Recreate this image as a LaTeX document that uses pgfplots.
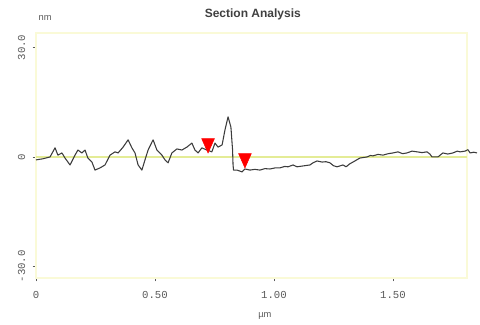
\documentclass[border=0pt]{standalone}
\usepackage{fontspec}
\setmainfont{Liberation Sans}
\newfontfamily\monofont{Liberation Mono}
\usepackage{pgfplots}
\pgfplotsset{compat=1.18}
\definecolor{frameyel}{RGB}{250,250,215}
\definecolor{zeroyel}{RGB}{228,236,150}
\definecolor{curve}{RGB}{60,60,60}
\definecolor{ticklab}{RGB}{90,90,90}
\begin{document}
\begin{tikzpicture}
\useasboundingbox (0,0) rectangle (360pt,243.75pt);
\begin{axis}[
  at={(27pt,35.25pt)}, anchor=south west,
  scale only axis, width=323.25pt, height=183.75pt,
  xmin=0, xmax=1.811, ymin=-33.2, ymax=34.0,
  clip=false,
  axis line style={draw=frameyel, line width=1pt},
  xtick={0,0.5,1,1.5}, xticklabels={0,0.50,1.00,1.50},
  ytick={-30,0,30}, yticklabels={-30.0,0,30.0},
  tick align=outside, major tick length=2.5pt,
  tick style={draw=ticklab, line width=0.4pt},
  xtick pos=bottom, ytick pos=left,
  xticklabel style={font=\monofont\fontsize{8}{9}\selectfont, text=ticklab, anchor=north, yshift=-4pt},
  yticklabel style={font=\monofont\fontsize{8}{9}\selectfont, text=ticklab, rotate=90, anchor=south, yshift=2pt},
  title={Section Analysis},
  title style={font=\bfseries\fontsize{9}{11}\selectfont, text=black!75, at={(axis description cs:0.503,1.045)}, anchor=center},
  xlabel={µm},
  xlabel style={font=\fontsize{7}{8}\selectfont, text=ticklab, at={(axis description cs:0.531,-0.155)}, anchor=center},
  ylabel={nm},
  ylabel style={font=\fontsize{7}{8}\selectfont, text=ticklab, at={(axis description cs:0.021,1.061)}, anchor=center, rotate=-90},
]
\addplot[zeroyel, line width=1.2pt, forget plot] coordinates {(0,0) (1.811,0)};
\addplot[curve, line width=0.8pt, line join=round] coordinates {
(0.000,-0.8) (0.029,-0.5) (0.059,0.0) (0.080,2.5) (0.092,0.5) (0.109,1.1) (0.122,-0.3)
(0.143,-2.2) (0.164,0.5) (0.176,1.9) (0.193,1.1) (0.206,1.9) (0.218,-0.3) (0.235,-1.4)
(0.248,-3.6) (0.269,-3.0) (0.290,-2.2) (0.311,0.5) (0.332,1.4) (0.345,1.1) (0.366,2.7)
(0.387,4.7) (0.403,2.5) (0.416,1.1) (0.429,-2.2) (0.445,-3.6) (0.458,-0.8) (0.471,1.9)
(0.492,4.7) (0.508,1.9) (0.529,0.5) (0.542,-0.8) (0.555,-1.6) (0.571,1.1) (0.592,2.2)
(0.613,1.9) (0.634,2.7) (0.655,3.8) (0.668,1.9) (0.681,1.1) (0.697,2.5) (0.718,1.9)
(0.739,1.4) (0.752,3.8) (0.765,2.7) (0.782,3.3) (0.794,7.4) (0.807,11.0) (0.819,8.2)
(0.826,1.9) (0.828,-2.2) (0.830,-3.6) (0.845,-3.6) (0.866,-4.1) (0.878,-3.3) (0.899,-3.6)
(0.920,-3.4) (0.941,-3.6) (0.962,-3.2) (0.983,-3.3) (1.005,-3.0) (1.025,-3.0) (1.045,-2.6)
(1.059,-2.7) (1.080,-2.2) (1.097,-2.7) (1.118,-2.5) (1.151,-2.2) (1.164,-1.6) (1.181,-1.1)
(1.202,-1.4) (1.218,-1.3) (1.235,-1.6) (1.250,-2.4) (1.265,-2.7) (1.290,-2.2) (1.303,-2.7)
(1.318,-1.9) (1.332,-1.4) (1.345,-0.9) (1.361,-0.3) (1.391,0.0) (1.405,0.4) (1.416,0.3)
(1.437,0.7) (1.458,0.5) (1.480,0.9) (1.500,1.1) (1.521,1.4) (1.540,0.9) (1.559,1.1)
(1.580,1.6) (1.601,1.4) (1.622,1.2) (1.643,1.4) (1.655,0.8) (1.664,0.0) (1.689,0.0)
(1.700,0.6) (1.710,1.1) (1.730,0.8) (1.752,1.1) (1.770,1.6) (1.782,1.4) (1.803,1.6)
(1.815,2.0) (1.824,1.1) (1.840,1.3) (1.853,1.1)
};
\addplot[only marks, mark=triangle*, mark size=5.5pt,
  mark options={draw=red, fill=red, xscale=1, yscale=-1.3}] coordinates {
(0.723,3.7) (0.878,-0.4)
};
\end{axis}
\end{tikzpicture}
\end{document}
